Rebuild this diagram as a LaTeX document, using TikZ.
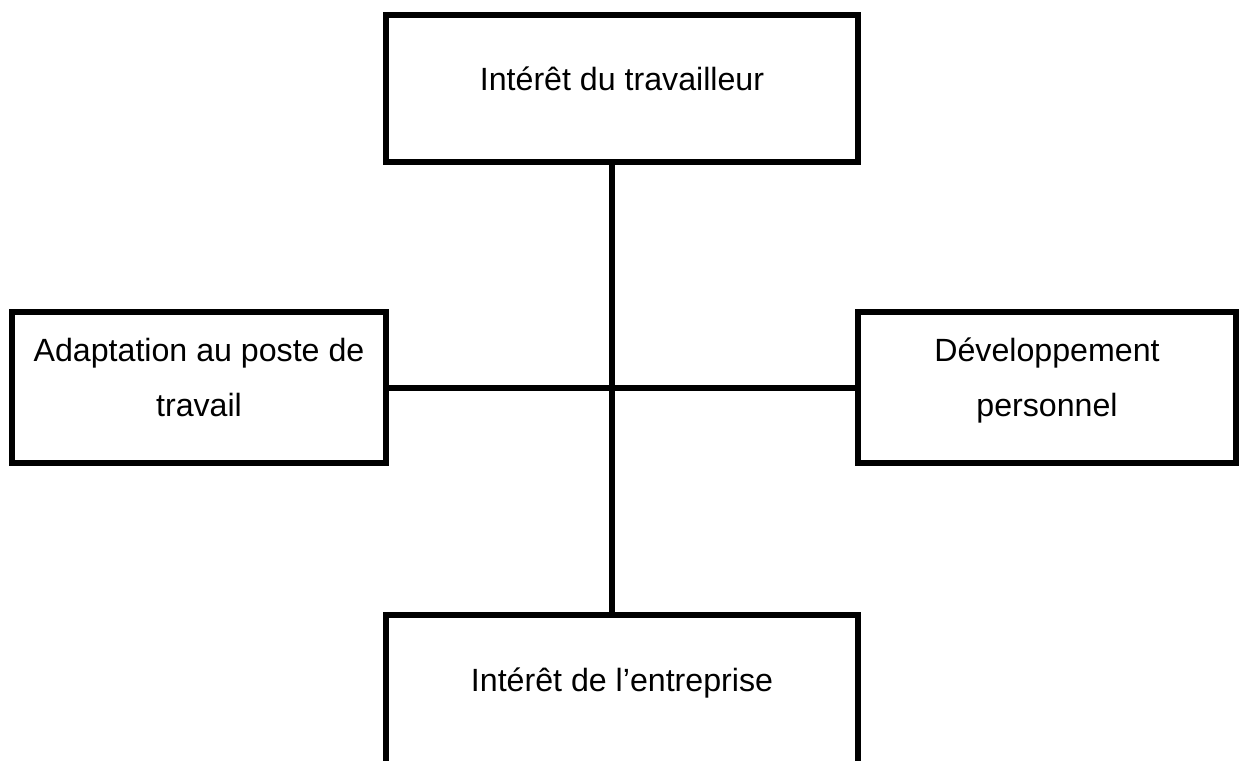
\documentclass[tikz,border=0pt]{standalone}
\usepackage{fontspec}
\setmainfont{Liberation Sans}
\usetikzlibrary{positioning}
\newcommand{\upst}{\rule{0pt}{6mm}}
\newcommand{\lowst}{\rule[-5.4mm]{0pt}{5.4mm}}

\begin{document}
\begin{tikzpicture}[x=0.2mm,y=-0.2mm]
    \tikzset{box/.style = {shape=rectangle,draw,line width=1.2mm,align=center,inner sep=0pt,font={\fontsize{18.3}{31.3}\selectfont}}}
    \tikzset{edge/.style = {line width=1.2mm}}
    \useasboundingbox (0,0) rectangle (1240,760);
    \clip (0,0) rectangle (1240,760);
    % vertices
    \node[box,minimum width=94.4mm,minimum height=29.4mm] (1) at (622,88.5) {\upst Intérêt du travailleur\lowst};
    \node[box,minimum width=74.8mm,minimum height=30.2mm] (2) at (199,387.5) {\upst Adaptation au poste de\\travail\lowst};
    \node[box,minimum width=75.6mm,minimum height=30.2mm] (3) at (1047,387.5) {\upst Développement\\personnel\lowst};
    \node[box,minimum width=94.4mm,minimum height=30mm] (4) at (622,690) {\upst Intérêt de l’entreprise\lowst};
    \coordinate (5) at (612,387.5);
    % edges
    \draw[edge] (1.south -| 5) -- (4.north -| 5);
    \draw[edge] (2) -- (3);
\end{tikzpicture}
\end{document}
